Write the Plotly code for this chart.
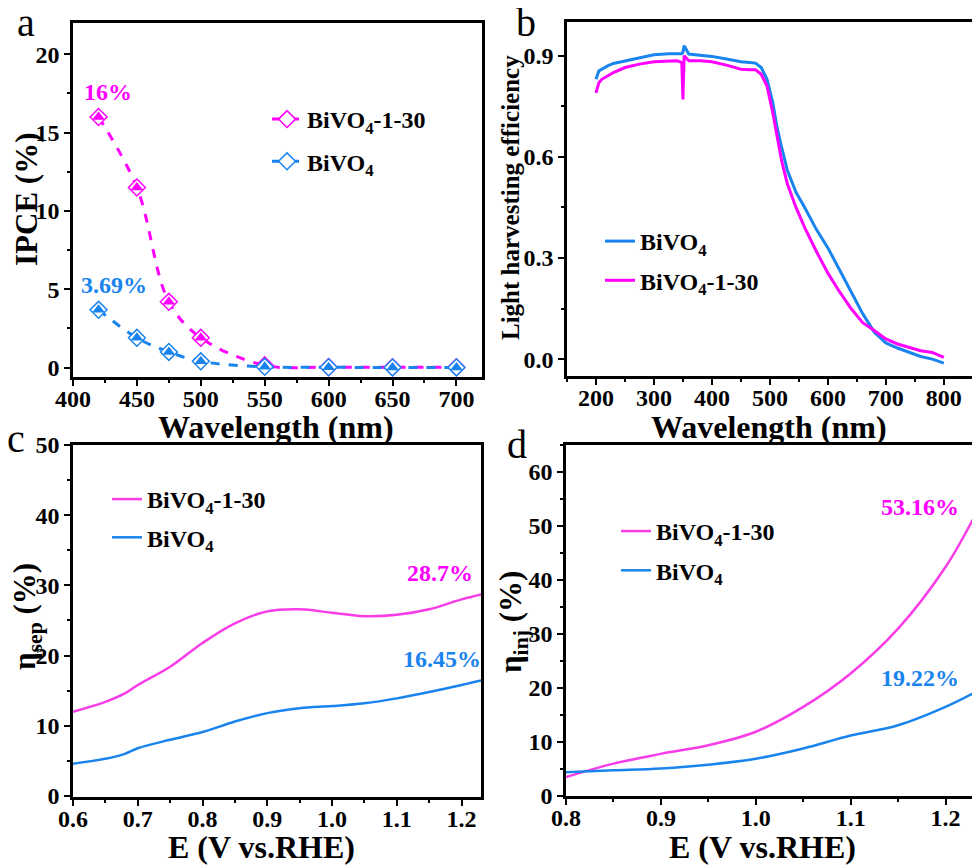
import plotly.graph_objects as go

# ---- data ----
# (a) IPCE
ipce_wl = [420, 450, 475, 500, 550, 600, 650, 700]
ipce_130 = [16.0, 11.5, 4.2, 1.9, 0.15, 0.03, 0.02, 0.02]
ipce_bvo = [3.69, 1.9, 1.0, 0.4, 0.05, 0.02, 0.01, 0.01]

# (b) light harvesting efficiency
lhe_wl = [200, 205, 210, 220, 230, 250, 275, 300, 325, 340, 348, 350, 352, 360, 380,
          400, 425, 450, 465, 475, 485, 495, 505, 512, 520, 530, 545, 560, 580, 600,
          620, 640, 660, 680, 700, 720, 740, 760, 780, 800]
lhe_bvo = [0.83, 0.855, 0.86, 0.87, 0.877, 0.885, 0.895, 0.903, 0.906, 0.905, 0.906, 0.91, 0.93,
           0.905, 0.902, 0.898, 0.89, 0.882, 0.88, 0.878, 0.865, 0.83, 0.76, 0.69, 0.63, 0.56,
           0.495, 0.45, 0.385, 0.33, 0.265, 0.2, 0.135, 0.08, 0.048, 0.033, 0.02, 0.008, 0.0, -0.012]
lhe_130 = [0.79, 0.82, 0.83, 0.84, 0.85, 0.865, 0.875, 0.882, 0.885, 0.885, 0.88, 0.77, 0.9,
           0.885, 0.885, 0.882, 0.872, 0.86, 0.858, 0.858, 0.845, 0.81, 0.73, 0.66, 0.59, 0.52,
           0.45, 0.39, 0.32, 0.255, 0.2, 0.15, 0.108, 0.085, 0.06, 0.045, 0.035, 0.025, 0.02, 0.005]

# (c) separation efficiency
sep_e = [0.6, 0.65, 0.68, 0.7, 0.75, 0.8, 0.85, 0.9, 0.95, 1.0, 1.05, 1.1, 1.15, 1.2, 1.23]
sep_130 = [12.0, 13.4, 14.6, 15.8, 18.4, 21.8, 24.6, 26.3, 26.6, 26.1, 25.6, 25.8, 26.6, 28.0, 28.7]
sep_bvo = [4.6, 5.3, 6.0, 6.8, 8.0, 9.1, 10.6, 11.8, 12.5, 12.8, 13.2, 13.9, 14.8, 15.8, 16.45]

# (d) injection efficiency
inj_e = [0.8, 0.85, 0.9, 0.95, 1.0, 1.05, 1.1, 1.15, 1.2, 1.23]
inj_130 = [3.5, 6.0, 7.8, 9.4, 11.9, 16.5, 22.7, 31.0, 42.4, 51.6]
inj_bvo = [4.4, 4.75, 5.1, 5.8, 6.9, 8.8, 11.2, 13.1, 16.5, 19.1]

MAGENTA = "#FF00FF"
MAGENTA_LT = "#F83CE8"
BLUE = "#1A84EE"
FONT = "Liberation Serif"
NAME_130 = "BiVO<sub>4</sub>-1-30"
NAME_BVO = "BiVO<sub>4</sub>"

# page body adds an 8px margin, so the figure is laid out in page pixels minus 8
W, H, OFF = 972, 859, 8


def px(x):
    return (x - OFF) / W


def py(y):
    return 1 - (y - OFF) / H


fig = go.Figure()


def axis_style(xr, rng, dtick, minor, fmt=None, anchor=None, is_x=True):
    d = dict(
        domain=[px(xr[0]), px(xr[1])] if is_x else [py(xr[1]), py(xr[0])],
        range=rng, dtick=dtick, tick0=0, automargin=False,
        showline=True, linecolor="black", linewidth=2.5, mirror=True,
        ticks="outside", ticklen=6, tickwidth=2, tickcolor="black",
        minor=dict(ticks="outside", ticklen=3, tickwidth=2, tickcolor="black", dtick=minor, tick0=0),
        showgrid=False, zeroline=False,
        tickfont=dict(family=FONT, size=24, color="black", weight="bold"),
        anchor=anchor,
    )
    if is_x:
        d["ticklabelstandoff"] = -8
    if fmt:
        d["tickformat"] = fmt
    return d


# ---- (a) IPCE ----
for name, vals, col in [(NAME_130, ipce_130, MAGENTA), (NAME_BVO, ipce_bvo, BLUE)]:
    fig.add_trace(go.Scatter(
        x=ipce_wl, y=vals, name=name, mode="lines+markers",
        line=dict(color=col, width=3, dash="dash", shape="spline"),
        marker=dict(symbol="diamond", size=13, color="white", line=dict(color=col, width=1.5)),
        xaxis="x", yaxis="y", legend="legend", legendgroup=name
    ))
    # filled top half of the markers
    fig.add_trace(go.Scatter(
        x=ipce_wl, y=vals, mode="markers", showlegend=False,
        marker=dict(symbol="triangle-up", size=11, color=col),
        xaxis="x", yaxis="y", legendgroup=name
    ))

# ---- (b) LHE ----
fig.add_trace(go.Scatter(x=lhe_wl, y=lhe_bvo, name=NAME_BVO, mode="lines",
                         line=dict(color=BLUE, width=3), xaxis="x2", yaxis="y2", legend="legend2",
                         legendgroup="b1"))
fig.add_trace(go.Scatter(x=lhe_wl, y=lhe_130, name=NAME_130, mode="lines",
                         line=dict(color=MAGENTA, width=3), xaxis="x2", yaxis="y2", legend="legend2",
                         legendgroup="b2"))

# ---- (c) separation ----
fig.add_trace(go.Scatter(x=sep_e, y=sep_130, name=NAME_130, mode="lines",
                         line=dict(color=MAGENTA_LT, width=2.5, shape="spline"),
                         xaxis="x3", yaxis="y3", legend="legend3", legendgroup="c1"))
fig.add_trace(go.Scatter(x=sep_e, y=sep_bvo, name=NAME_BVO, mode="lines",
                         line=dict(color=BLUE, width=2.5, shape="spline"),
                         xaxis="x3", yaxis="y3", legend="legend3", legendgroup="c2"))

# ---- (d) injection ----
fig.add_trace(go.Scatter(x=inj_e, y=inj_130, name=NAME_130, mode="lines",
                         line=dict(color=MAGENTA_LT, width=2.5, shape="spline"),
                         xaxis="x4", yaxis="y4", legend="legend4", legendgroup="d1"))
fig.add_trace(go.Scatter(x=inj_e, y=inj_bvo, name=NAME_BVO, mode="lines",
                         line=dict(color=BLUE, width=2.5, shape="spline"),
                         xaxis="x4", yaxis="y4", legend="legend4", legendgroup="d2"))

legend_font = dict(family=FONT, size=24, color="black", weight="bold")


def legend_at(x, y, gap):
    return dict(x=px(x), y=py(y), xanchor="left", yanchor="top", bgcolor="rgba(0,0,0,0)",
                font=legend_font, traceorder="grouped", tracegroupgap=gap, itemwidth=30)


fig.update_layout(
    width=W, height=H,
    margin=dict(l=0, r=0, t=0, b=0),
    paper_bgcolor="white", plot_bgcolor="white",
    xaxis=axis_style([73, 482], [400, 720], 50, 25, anchor="y"),
    yaxis=axis_style([23, 377], [-0.6, 22], 5, 2.5, anchor="x", is_x=False),
    xaxis2=axis_style([567, 974], [150, 852], 100, 50, anchor="y2"),
    yaxis2=axis_style([22, 376], [-0.05, 1.0], 0.3, 0.15, fmt=".1f", anchor="x2", is_x=False),
    xaxis3=axis_style([73, 481], [0.6, 1.23], 0.1, 0.05, fmt=".1f", anchor="y3"),
    yaxis3=axis_style([445, 797], [-0.15, 50], 10, 5, anchor="x3", is_x=False),
    xaxis4=axis_style([566, 974], [0.8, 1.23], 0.1, 0.05, fmt=".1f", anchor="y4"),
    yaxis4=axis_style([445, 796], [0, 65], 10, 5, anchor="x4", is_x=False),
    legend=legend_at(267, 97, 8),
    legend2=legend_at(600, 219, 5),
    legend3=legend_at(107, 477, 4),
    legend4=legend_at(616, 509, 5),
)

# axis titles (page pixel centres)
titles = [
    ("Wavelength (nm)", 276, 427, 0, 32),
    ("IPCE (%)", 27, 200, -90, 31),
    ("Wavelength (nm)", 769, 427, 0, 32),
    ("Light harvesting efficiency", 511, 198, -90, 25),
    ("E (V vs.RHE)", 262, 847, 0, 32),
    ("η<sub>sep</sub> (%)", 27, 617, -90, 31),
    ("E (V vs.RHE)", 762, 847, 0, 32),
    ("η<sub>inj</sub> (%)", 513, 622, -90, 31),
]
for txt, x, y, ang, size in titles:
    fig.add_annotation(x=px(x), y=py(y), xref="paper", yref="paper", text=txt, textangle=ang,
                       showarrow=False, xanchor="center", yanchor="middle",
                       font=dict(family=FONT, size=size, color="black", weight="bold"))

# value callouts
callouts = [
    ("x", "y", 427, 17.6, "16%", MAGENTA),
    ("x", "y", 432, 5.3, "3.69%", BLUE),
    ("x3", "y3", 1.167, 31.7, "28.7%", MAGENTA),
    ("x3", "y3", 1.17, 19.5, "16.45%", BLUE),
    ("x4", "y4", 1.173, 53.6, "53.16%", MAGENTA),
    ("x4", "y4", 1.173, 21.8, "19.22%", BLUE),
]
for xr, yr, x, y, txt, col in callouts:
    fig.add_annotation(x=x, y=y, xref=xr, yref=yr, text=txt, showarrow=False,
                       xanchor="center", yanchor="middle",
                       font=dict(family=FONT, size=24, color=col, weight="bold"))

# panel letters
for txt, x, y in [("a", 26, 22), ("b", 526, 22), ("c", 16, 438), ("d", 517, 444)]:
    fig.add_annotation(x=px(x), y=py(y), xref="paper", yref="paper", text=txt,
                       showarrow=False, xanchor="center", yanchor="middle",
                       font=dict(family=FONT, size=40, color="black"))

fig.write_html("out.html")
